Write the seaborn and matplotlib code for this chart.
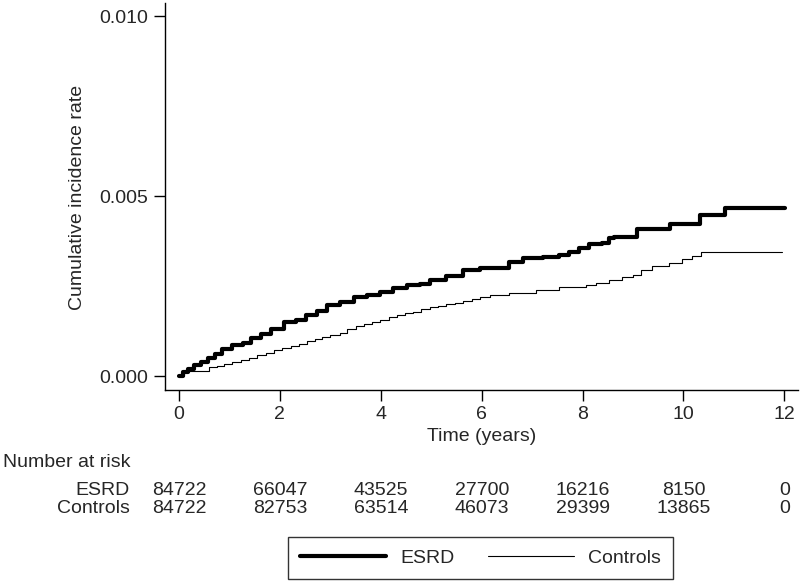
import numpy as np
import pandas as pd
import matplotlib
matplotlib.use("Agg")
import matplotlib.pyplot as plt
from matplotlib.lines import Line2D
import seaborn as sns

esrd_t = [0.0, 0.08, 0.18, 0.30, 0.43, 0.57, 0.72, 0.86, 1.06, 1.26, 1.42, 1.62, 1.82, 2.08, 2.31, 2.51,
          2.74, 2.93, 3.2, 3.46, 3.72, 3.99, 4.25, 4.51, 4.78, 4.97, 5.3, 5.63, 5.96, 6.42, 6.55, 6.82,
          7.21, 7.54, 7.74, 7.93, 8.13, 8.39, 8.53, 8.62, 9.07, 9.73, 10.32, 10.83, 12.01]
esrd_v = [0.0, 0.0001, 0.0002, 0.000306, 0.0004, 0.00049, 0.00062, 0.00074, 0.00086, 0.00091, 0.00105,
          0.00116, 0.0013, 0.00151, 0.00157, 0.00169, 0.0018, 0.00197, 0.00206, 0.00219, 0.00225,
          0.00234, 0.00244, 0.00253, 0.00256, 0.00267, 0.00278, 0.00294, 0.00299, 0.00301, 0.00318,
          0.00329, 0.00331, 0.00336, 0.00344, 0.00355, 0.00366, 0.00369, 0.00383, 0.00387, 0.0041,
          0.00422, 0.00449, 0.00466, 0.00466]

ctrl_t = [0.0, 0.1, 0.20, 0.6, 0.75, 0.89, 1.05, 1.22, 1.38, 1.55, 1.72, 1.88, 2.05, 2.21, 2.38, 2.54,
          2.7, 2.84, 3.0, 3.2, 3.33, 3.5, 3.66, 3.82, 3.99, 4.16, 4.32, 4.48, 4.64, 4.8, 4.97, 5.14,
          5.3, 5.47, 5.63, 5.8, 5.96, 6.16, 6.55, 7.08, 7.54, 8.07, 8.26, 8.53, 8.79, 8.99, 9.15,
          9.38, 9.71, 9.97, 10.17, 10.34, 11.95]
ctrl_v = [0.0, 0.0001, 0.00015, 0.00024, 0.00028, 0.00033, 0.00038, 0.00044, 0.00051, 0.00058, 0.00065,
          0.00072, 0.00078, 0.00084, 0.0009, 0.00097, 0.00103, 0.00109, 0.00114, 0.0012, 0.00132,
          0.00139, 0.00146, 0.00151, 0.00157, 0.00163, 0.00169, 0.00174, 0.00179, 0.00185, 0.00191,
          0.00195, 0.00199, 0.00204, 0.00209, 0.00214, 0.00219, 0.00225, 0.00231, 0.00239, 0.00248,
          0.00253, 0.0026, 0.00267, 0.00276, 0.00282, 0.00294, 0.00306, 0.00315, 0.00325, 0.00333,
          0.00344, 0.00344]

risk_times = [0, 2, 4, 6, 8, 10, 12]
risk_esrd = ["84722", "66047", "43525", "27700", "16216", "8150", "0"]
risk_ctrl = ["84722", "82753", "63514", "46073", "29399", "13865", "0"]
yticks = [0.0, 0.005, 0.010]
ytick_labels = ["0.000", "0.005", "0.010"]

sns.set_style("ticks")
plt.rcParams['font.family'] = ['Liberation Sans', 'DejaVu Sans']
FS = 14
W, H = 800, 581

fig = plt.figure(figsize=(8, 5.81), dpi=100)
ax_l, ax_r, ax_t, ax_b = 165, 798, 2.7, 389.5
ax = fig.add_axes([ax_l/W, 1-ax_b/H, (ax_r-ax_l)/W, (ax_b-ax_t)/H])

df_e = pd.DataFrame({"t": esrd_t, "v": esrd_v})
df_c = pd.DataFrame({"t": ctrl_t, "v": ctrl_v})
sns.lineplot(data=df_e, x="t", y="v", ax=ax, color="black", linewidth=3.0, drawstyle="steps-post",
             estimator=None, sort=False)
sns.lineplot(data=df_c, x="t", y="v", ax=ax, color="black", linewidth=0.8, drawstyle="steps-post",
             estimator=None, sort=False)

ax.set_xlim(-0.278, 12.27)
ax.set_ylim(-0.000375, 0.01038)
ax.set_xticks(risk_times)
ax.set_xticklabels([str(t) for t in risk_times], fontsize=FS)
ax.set_yticks(yticks)
ax.set_yticklabels(ytick_labels, fontsize=FS)
ax.tick_params(axis="x", direction="out", length=8, width=1, color="black", pad=3.6)
ax.tick_params(axis="y", direction="out", length=8, width=1, color="black", pad=4.3)
for s in ["top", "right"]:
    ax.spines[s].set_visible(False)
for s in ["left", "bottom"]:
    ax.spines[s].set_color("black")
    ax.spines[s].set_linewidth(1)

ax.set_xlabel("Time (years)", fontsize=FS)
ax.xaxis.label.set_va("baseline")
ax.xaxis.set_label_coords((481.7-ax_l)/(ax_r-ax_l), -(441-ax_b)/(ax_b-ax_t))
ax.set_ylabel("Cumulative incidence rate", fontsize=FS)
ax.yaxis.label.set_va("center")
ax.yaxis.set_label_coords(-(ax_l-77)/(ax_r-ax_l), 1-(197.5-ax_t)/(ax_b-ax_t))

# number at risk
fig.text(2.7/W, 1-467/H, "Number at risk", fontsize=FS, ha="left", va="baseline")
fig.text(130/W, 1-495/H, "ESRD", fontsize=FS, ha="right", va="baseline")
fig.text(130/W, 1-513/H, "Controls", fontsize=FS, ha="right", va="baseline")
for t, a, b in zip(risk_times, risk_esrd, risk_ctrl):
    xf = fig.transFigure.inverted().transform(ax.transData.transform((t, 0)))[0]
    fig.text(xf, 1-495/H, a, fontsize=FS, ha="center", va="baseline")
    fig.text(xf, 1-513/H, b, fontsize=FS, ha="center", va="baseline")

handles = [Line2D([], [], color="black", linewidth=3.0), Line2D([], [], color="black", linewidth=0.8)]
leg = fig.legend(handles, ["ESRD", "Controls"], loc="upper center", bbox_to_anchor=(480.5/W, 1-537/H),
                 ncol=2, frameon=True, fancybox=False, edgecolor="black", fontsize=FS,
                 handlelength=4.4, handletextpad=0.74, columnspacing=1.75, borderpad=0.62, borderaxespad=0)
leg.get_frame().set_linewidth(1)

fig.savefig("out.png", dpi=100)
